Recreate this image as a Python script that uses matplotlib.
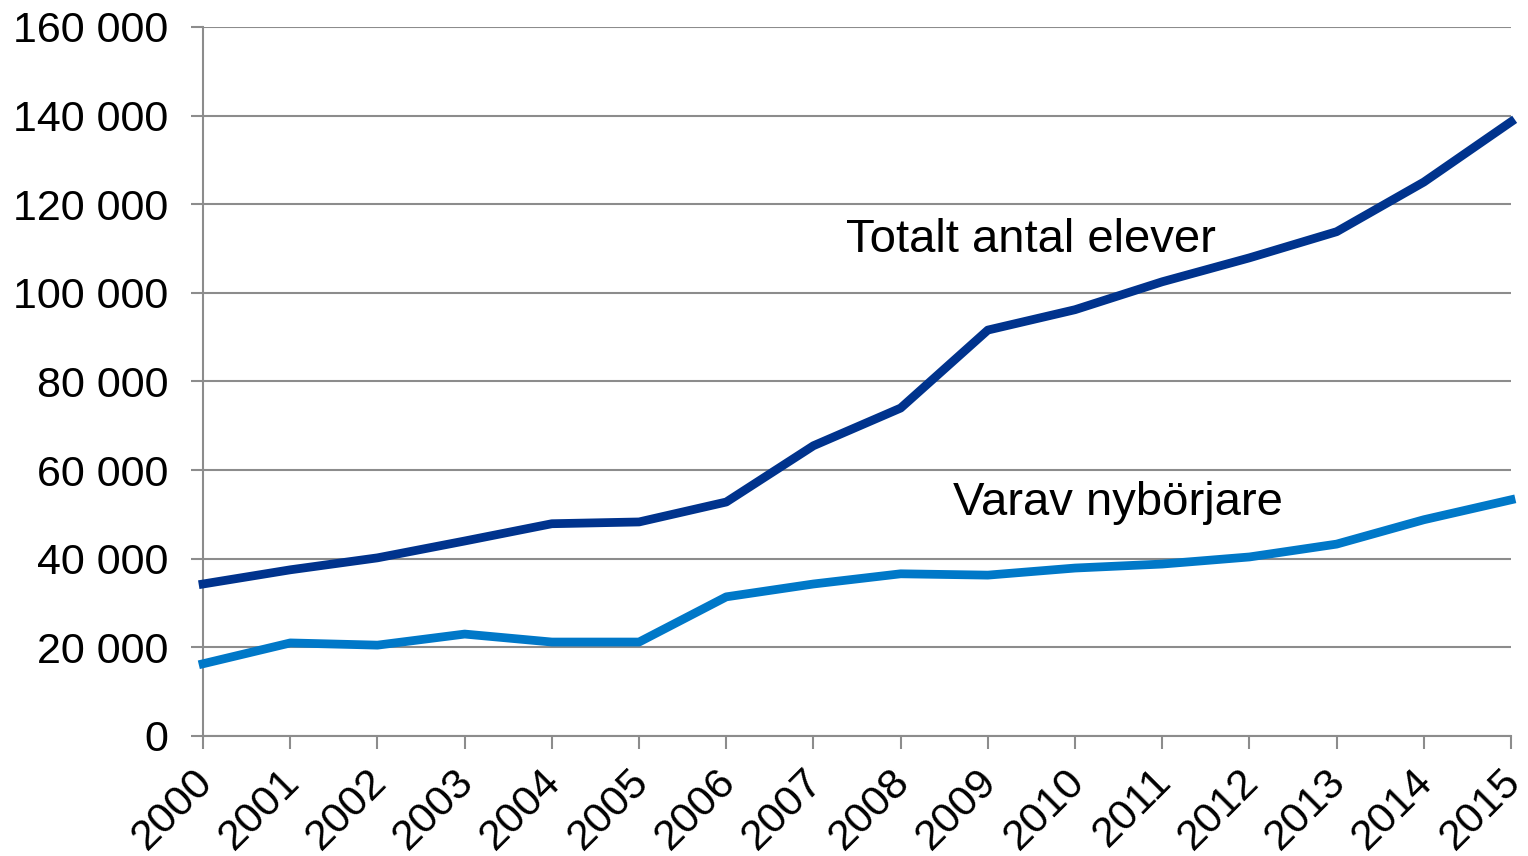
import matplotlib
matplotlib.use('Agg')
import matplotlib.pyplot as plt
from matplotlib.ticker import FuncFormatter

plt.rcParams['font.family'] = ['Liberation Sans', 'DejaVu Sans']

years = list(range(2000, 2016))
totalt = [34300, 37500, 40200, 44000, 47900, 48300, 52800, 65500,
          74000, 91600, 96200, 102500, 107900, 113800, 125000, 138600]
nyborjare = [16300, 21000, 20500, 23000, 21200, 21200, 31400, 34300,
             36600, 36300, 37900, 38800, 40400, 43300, 48800, 53300]

navy = '#00338D'
light = '#0078C8'
grid = '#8C8C8C'

fig = plt.figure(figsize=(15.28, 8.56), dpi=100)
ax = fig.add_axes([0.1329, 0.1402, 0.9889 - 0.1329, 0.9685 - 0.1402])

ax.plot(years, totalt, color=navy, lw=6.3, solid_joinstyle='round', zorder=3, clip_on=False)
ax.plot(years, nyborjare, color=light, lw=6.3, solid_joinstyle='round', zorder=3, clip_on=False)

ax.set_xlim(2000, 2015)
ax.set_ylim(0, 160000)
ax.set_yticks(range(0, 160001, 20000))
ax.set_xticks(years)
ax.yaxis.set_major_formatter(FuncFormatter(lambda v, p: f'{int(v):,}'.replace(',', ' ')))
ax.set_xticklabels([str(y) for y in years], rotation=45, ha='right',
                   va='center_baseline', rotation_mode='anchor')

ax.grid(axis='y', color=grid, lw=1.5, zorder=0)
for s in ['top', 'right']:
    ax.spines[s].set_visible(False)
for s in ['left', 'bottom']:
    ax.spines[s].set_color(grid)
    ax.spines[s].set_linewidth(1.5)
ax.tick_params(axis='both', colors=grid, length=9, width=1.5, labelsize=31,
               labelcolor='black')
ax.tick_params(axis='y', pad=16)
ax.tick_params(axis='x', pad=17)

ax.text(2007.37, 112000, 'Totalt antal elever', fontsize=34, va='center', ha='left')
ax.text(2008.6, 52600, 'Varav nybörjare', fontsize=34, va='center', ha='left')

fig.savefig('out.png', dpi=100)
